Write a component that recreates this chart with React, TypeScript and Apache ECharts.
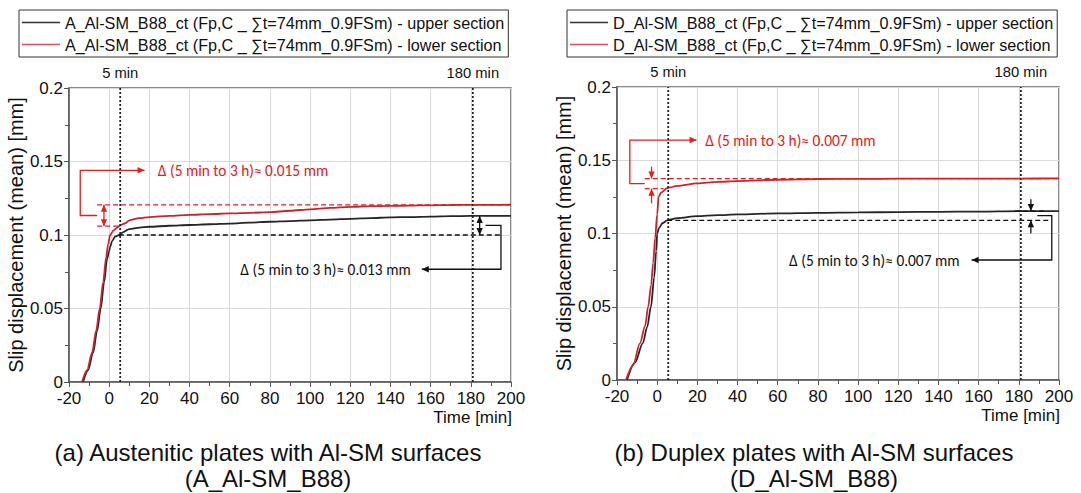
import React, { useEffect, useRef } from "react";
import * as echarts from "echarts";

// ---------- data ----------
const xTicksMin = -20;
const xTicksMax = 200;
const yMax = 0.2;

const aUpperTime = [-13, -10.5, -8, -6, -4.2, -2.5, -1, 0, 0.5, 1.5, 3, 5, 7, 10, 15, 20, 30, 40, 50, 60, 70, 80, 90, 100, 110, 120, 130, 140, 150, 160, 170, 180, 190, 200];
const aUpperDisp = [0, 0.008, 0.02, 0.035, 0.05, 0.068, 0.084, 0.089, 0.092, 0.096, 0.099, 0.1, 0.102, 0.104, 0.105, 0.1056, 0.1063, 0.1068, 0.1073, 0.1078, 0.1084, 0.109, 0.1095, 0.11, 0.1105, 0.111, 0.1115, 0.112, 0.1122, 0.1125, 0.1128, 0.113, 0.113, 0.113];

const aLowerTime = [-13.5, -11, -8.5, -6.5, -4.7, -3, -1.5, -0.5, 0.5, 2, 4, 5, 6, 8, 10, 15, 20, 30, 40, 50, 60, 70, 80, 90, 100, 110, 120, 130, 140, 150, 160, 170, 180, 190, 200];
const aLowerDisp = [0, 0.008, 0.02, 0.035, 0.05, 0.068, 0.085, 0.094, 0.1, 0.103, 0.105, 0.106, 0.107, 0.108, 0.11, 0.1115, 0.1122, 0.113, 0.1137, 0.1142, 0.1147, 0.1151, 0.1155, 0.1165, 0.1175, 0.1184, 0.1192, 0.1196, 0.1198, 0.12, 0.1202, 0.1204, 0.1205, 0.1205, 0.1206];

const dUpperTime = [-15, -11, -7.2, -5, -3.1, -1.5, -0.5, 0, 1, 2.6, 5, 10, 20, 30, 40, 60, 80, 100, 120, 140, 160, 180, 200];
const dUpperDisp = [0, 0.012, 0.025, 0.036, 0.05, 0.07, 0.088, 0.1, 0.104, 0.107, 0.109, 0.1105, 0.1118, 0.1125, 0.113, 0.1137, 0.1141, 0.1144, 0.1146, 0.1148, 0.115, 0.1153, 0.1153];

const dLowerTime = [-15.5, -12, -8.6, -6, -4.5, -3, -2, -1, 0, 0.7, 2, 5, 10, 20, 30, 40, 60, 80, 100, 120, 140, 160, 180, 200];
const dLowerDisp = [0, 0.01, 0.025, 0.037, 0.05, 0.065, 0.08, 0.097, 0.113, 0.125, 0.128, 0.131, 0.1325, 0.1342, 0.1352, 0.1358, 0.1367, 0.1372, 0.1373, 0.1374, 0.1375, 0.1375, 0.1375, 0.1376];

const seriesNames = [
  "A_Al-SM_B88_ct (Fp,C _ \u2211t=74mm_0.9FSm) - upper section",
  "A_Al-SM_B88_ct (Fp,C _ \u2211t=74mm_0.9FSm) - lower section",
  "D_Al-SM_B88_ct (Fp,C _ \u2211t=74mm_0.9FSm) - upper section",
  "D_Al-SM_B88_ct (Fp,C _ \u2211t=74mm_0.9FSm) - lower section",
];

const markTimes = [5.5, 181];
const markLabels = ["5 min", "180 min"];

const captionsA = ["(a) Austenitic plates with Al-SM surfaces", "(A_Al-SM_B88)"];
const captionsD = ["(b) Duplex plates with Al-SM surfaces", "(D_Al-SM_B88)"];

// Δ values (5 min to 3 h)
const aDeltaLower = [0.106, 0.1205];
const aDeltaUpper = [0.1, 0.113];
const dDeltaLower = [0.1306, 0.1375];
const dDeltaUpper = [0.109, 0.1153];
const deltaTexts = ["\u0394 (5 min to 3 h)\u2248 0.015 mm", "\u0394 (5 min to 3 h)\u2248 0.013 mm", "\u0394 (5 min to 3 h)\u2248 0.007 mm", "\u0394 (5 min to 3 h)\u2248 0.007 mm"];

// ---------- styles ----------
const FONT = "Liberation Sans, Arial, sans-serif";
const ANN_FONT = "Carlito, Lato, sans-serif";
const BLACK = "#262626";
const RED = "#c8242f";
const LEG_RED = "#d4525c";
const ANN_RED = "#e0201c";
const ANN_BLACK = "#111";

const zip = (t: number[], v: number[]) => t.map((x, i) => [x, v[i]]);

function axisPair(gi: number) {
  const x = {
    type: "value",
    gridIndex: gi,
    min: xTicksMin,
    max: xTicksMax,
    interval: 20,
    axisLine: { show: true, onZero: false, lineStyle: { color: "#555", width: 1.5 } },
    axisTick: { show: true, length: 5, lineStyle: { color: "#555" } },
    minorTick: { show: true, splitNumber: 2, length: 4, lineStyle: { color: "#555" } },
    axisLabel: { color: "#111", fontSize: 17, fontFamily: FONT, margin: 8 },
    splitLine: { show: true, lineStyle: { color: "#d9d9d9", width: 1 } },
  };
  const y = {
    type: "value",
    gridIndex: gi,
    min: 0,
    max: yMax,
    interval: 0.05,
    name: "Slip displacement (mean) [mm]",
    nameLocation: "middle",
    nameGap: 41,
    nameTextStyle: { color: "#111", fontSize: 20, fontFamily: FONT },
    axisLine: { show: true, onZero: false, lineStyle: { color: "#555", width: 1.5 } },
    axisTick: { show: true, length: 5, lineStyle: { color: "#555" } },
    minorTick: { show: true, splitNumber: 2, length: 4, lineStyle: { color: "#555" } },
    axisLabel: { color: "#111", fontSize: 17, fontFamily: FONT, margin: 6 },
    splitLine: { show: true, lineStyle: { color: "#d9d9d9", width: 1 } },
  };
  return { x, y };
}

function lineSeries(name: string, data: number[][], color: string, gi: number) {
  return {
    type: "line",
    name,
    xAxisIndex: gi,
    yAxisIndex: gi,
    data,
    symbol: "none",
    smooth: 0.3,
    smoothMonotone: "x",
    lineStyle: { color, width: 1.8 },
    itemStyle: { color },
    z: 5,
  };
}

function legendFor(left: number, names: string[]) {
  return {
    orient: "vertical",
    left,
    top: 10,
    data: [
      { name: names[0], itemStyle: { color: "#333" } },
      { name: names[1], itemStyle: { color: LEG_RED } },
    ],
    icon: "rect",
    borderColor: "#333",
    borderWidth: 1,
    borderRadius: 0,
    padding: [4, 4, 4, 3],
    itemWidth: 38,
    itemHeight: 1.5,
    itemGap: 5,
    textStyle: { color: "#111", fontSize: 16.2, fontFamily: FONT, lineHeight: 17 },
    selectedMode: false,
  };
}

function buildGraphics(chart: any) {
  const els: any[] = [];
  const P = (g: number, x: number, y: number) => chart.convertToPixel({ gridIndex: g }, [x, y]);

  const poly = (g: number, pts: number[][], color: string, dash?: number[], width = 1.3) => {
    els.push({
      type: "polyline",
      shape: { points: pts.map((p) => P(g, p[0], p[1])) },
      style: { stroke: color, lineWidth: width, lineDash: dash || null, fill: null },
      z: 20,
    });
  };
  const head = (g: number, from: number[], tip: number[], color: string) => {
    const a = P(g, from[0], from[1]);
    const b = P(g, tip[0], tip[1]);
    const dx = b[0] - a[0];
    const dy = b[1] - a[1];
    const len = Math.hypot(dx, dy) || 1;
    const ux = dx / len, uy = dy / len;
    const L = 7, Wd = 3.2;
    const bx = b[0] - ux * L, by = b[1] - uy * L;
    els.push({
      type: "polygon",
      shape: { points: [b, [bx - uy * Wd, by + ux * Wd], [bx + uy * Wd, by - ux * Wd]] },
      style: { fill: color, stroke: null },
      z: 21,
    });
  };
  const text = (g: number, x: number, y: number, s: string, color: string, align: string) => {
    const p = P(g, x, y);
    els.push({
      type: "text",
      x: p[0],
      y: p[1],
      style: { text: s, fill: color, font: `15.4px ${ANN_FONT}`, align, verticalAlign: "middle" },
      z: 22,
    });
  };

  // dotted time markers and their labels
  [0, 1].forEach((g) => {
    markTimes.forEach((t, i) => {
      poly(g, [[t, 0], [t, yMax]], "#222", [2, 2], 1.8);
      const p = P(g, t, yMax);
      els.push({
        type: "text",
        x: p[0],
        y: p[1] - 15,
        style: { text: markLabels[i], fill: "#111", font: `14.8px ${FONT}`, align: "center", verticalAlign: "middle" },
      });
    });
    const q = P(g, xTicksMax, 0);
    els.push({
      type: "text",
      x: q[0] + 1,
      y: q[1] + 35,
      style: { text: "Time [min]", fill: "#111", font: `17px ${FONT}`, align: "right", verticalAlign: "middle" },
    });
  });

  // ---- chart (a) ----
  {
    const g = 0;
    const [lo, hi] = aDeltaLower;
    poly(g, [[-6, hi], [200, hi]], ANN_RED, [5, 3]);
    poly(g, [[-6, lo], [4.8, lo]], ANN_RED, [5, 3]);
    poly(g, [[-2.6, hi], [-2.6, lo]], ANN_RED);
    head(g, [-2.6, lo], [-2.6, hi], ANN_RED);
    head(g, [-2.6, hi], [-2.6, lo], ANN_RED);
    const ym = (lo + hi) / 2;
    poly(g, [[-6, ym], [-14.4, ym], [-14.4, 0.144], [17.6, 0.144]], ANN_RED);
    head(g, [10, 0.144], [17.6, 0.144], ANN_RED);
    text(g, 24.2, 0.144, deltaTexts[0], ANN_RED, "left");

    const [lo2, hi2] = aDeltaUpper;
    poly(g, [[4.8, lo2], [195.9, lo2]], ANN_BLACK, [5, 3]);
    poly(g, [[184.4, hi2], [184.4, lo2]], ANN_BLACK);
    head(g, [184.4, lo2], [184.4, hi2], ANN_BLACK);
    head(g, [184.4, hi2], [184.4, lo2], ANN_BLACK);
    const ym2 = (lo2 + hi2) / 2;
    poly(g, [[187.3, ym2], [195, ym2], [195, 0.0767], [155.6, 0.0767]], ANN_BLACK);
    head(g, [165, 0.0767], [155.6, 0.0767], ANN_BLACK);
    text(g, 150.1, 0.0767, deltaTexts[1], ANN_BLACK, "right");
  }

  // ---- chart (b) ----
  {
    const g = 1;
    const [lo, hi] = dDeltaLower;
    poly(g, [[-6.2, hi], [200, hi]], ANN_RED, [5, 3]);
    poly(g, [[-6.2, lo], [3.2, lo]], ANN_RED, [5, 3]);
    poly(g, [[-2.8, 0.1456], [-2.8, hi]], ANN_RED);
    head(g, [-2.8, 0.1456], [-2.8, hi], ANN_RED);
    poly(g, [[-2.8, 0.1206], [-2.8, lo]], ANN_RED);
    head(g, [-2.8, 0.1206], [-2.8, lo], ANN_RED);
    const ym = (lo + hi) / 2;
    poly(g, [[-6.2, ym], [-13.6, ym], [-13.6, 0.1638], [19.6, 0.1638]], ANN_RED);
    head(g, [10, 0.1638], [19.6, 0.1638], ANN_RED);
    text(g, 23.9, 0.1638, deltaTexts[2], ANN_RED, "left");

    const [lo2, hi2] = dDeltaUpper;
    poly(g, [[5, lo2], [195.8, lo2]], ANN_BLACK, [5, 3]);
    poly(g, [[178, hi2], [193, hi2]], ANN_BLACK, [5, 3]);
    poly(g, [[186, 0.1233], [186, hi2]], ANN_BLACK);
    head(g, [186, 0.1233], [186, hi2], ANN_BLACK);
    poly(g, [[186, 0.1001], [186, lo2]], ANN_BLACK);
    head(g, [186, 0.1001], [186, lo2], ANN_BLACK);
    const ym2 = (lo2 + hi2) / 2;
    poly(g, [[189.2, ym2], [196.4, ym2], [196.4, 0.0819], [156.5, 0.0819]], ANN_BLACK);
    head(g, [165, 0.0819], [156.5, 0.0819], ANN_BLACK);
    text(g, 150.5, 0.0819, deltaTexts[3], ANN_BLACK, "right");
  }

  // captions
  const cap = (x: number, y: number, s: string) =>
    els.push({
      type: "text",
      x,
      y,
      style: { text: s, fill: "#111", font: `24px ${FONT}`, align: "center", verticalAlign: "middle" },
    });
  cap(268, 452, captionsA[0]);
  cap(268, 478, captionsA[1]);
  cap(814, 452, captionsD[0]);
  cap(814, 478, captionsD[1]);

  return els;
}

export default function App() {
  const ref = useRef<HTMLDivElement>(null);
  useEffect(() => {
    if (!ref.current) return;
    const chart = echarts.init(ref.current, null, { renderer: "svg" });
    const a0 = axisPair(0);
    const a1 = axisPair(1);
    const option: any = {
      animation: false,
      backgroundColor: "#fff",
      textStyle: { fontFamily: FONT },
      grid: [
        { left: 69, top: 88, width: 442, height: 294, show: true, borderColor: "#666", borderWidth: 1.5, backgroundColor: "transparent" },
        { left: 617, top: 87, width: 442, height: 293, show: true, borderColor: "#666", borderWidth: 1.5, backgroundColor: "transparent" },
      ],
      xAxis: [a0.x, a1.x],
      yAxis: [a0.y, a1.y],
      legend: [legendFor(19, [seriesNames[0], seriesNames[1]]), legendFor(567, [seriesNames[2], seriesNames[3]])],
      series: [
        lineSeries(seriesNames[0], zip(aUpperTime, aUpperDisp), BLACK, 0),
        lineSeries(seriesNames[1], zip(aLowerTime, aLowerDisp), RED, 0),
        lineSeries(seriesNames[2], zip(dUpperTime, dUpperDisp), BLACK, 1),
        lineSeries(seriesNames[3], zip(dLowerTime, dLowerDisp), RED, 1),
      ],
    };
    chart.setOption(option);
    chart.setOption({ graphic: buildGraphics(chart) });
    return () => chart.dispose();
  }, []);
  return <div ref={ref} style={{ position: "fixed", left: 0, top: 0, width: 1081, height: 493, background: "#fff" }} />;
}
